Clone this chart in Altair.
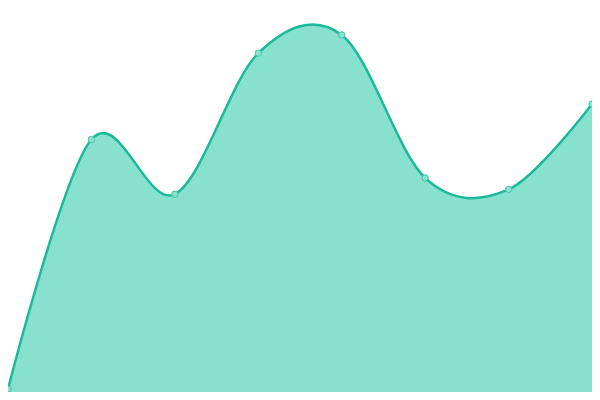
import altair as alt
import pandas as pd

idx = [0, 1, 2, 3, 4, 5, 6, 7]
values = [3, 263, 206, 353, 372, 223, 211, 300]

df = pd.DataFrame({"i": idx, "v": values})

x = alt.X("i:Q", scale=alt.Scale(domain=[0, 7], nice=False, zero=False), axis=None)
y = alt.Y("v:Q", scale=alt.Scale(domain=[0, 400], nice=False), axis=None)

area = alt.Chart(df).mark_area(
    interpolate="cardinal", color="#88e0cf", opacity=1,
    line={"color": "#1ab99a", "strokeWidth": 2.5},
).encode(x=x, y=y)

pts = alt.Chart(df).mark_point(
    filled=True, size=40, fill="#8ee2d0", stroke="#3fc4a6", strokeWidth=1, opacity=1,
).encode(x=x, y=y)

chart = (area + pts).properties(
    width=584, height=384, padding=0,
    autosize=alt.AutoSizeParams(type="none"),
    background="white",
).configure_view(stroke=None)

chart.save("out.html", embed_options={"renderer": "svg", "actions": False})
